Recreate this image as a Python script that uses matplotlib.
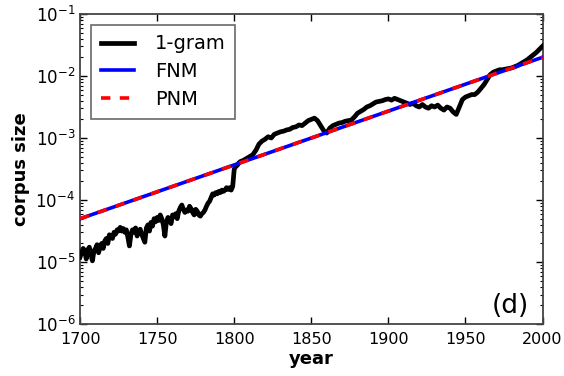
import numpy as np
import matplotlib
matplotlib.use('Agg')
import matplotlib.pyplot as plt

# 1-gram corpus size (log10)
years_early = list(range(1700, 1805))
log_early = [
    -4.92, -4.85, -4.78, -4.82, -4.95, -4.80, -4.76, -4.88, -4.98, -4.82,
    -4.78, -4.72, -4.85, -4.75, -4.70, -4.78, -4.66, -4.62, -4.70, -4.56,
    -4.58, -4.62, -4.52, -4.55, -4.48, -4.50, -4.44, -4.50, -4.46, -4.52,
    -4.48, -4.60, -4.74, -4.55, -4.48, -4.52, -4.45, -4.58, -4.50, -4.47,
    -4.55, -4.62, -4.68, -4.45, -4.40, -4.50, -4.36, -4.42, -4.30, -4.35,
    -4.28, -4.33, -4.24, -4.30, -4.40, -4.58, -4.35, -4.28, -4.30, -4.38,
    -4.24, -4.27, -4.22, -4.30, -4.18, -4.12, -4.08, -4.15, -4.20, -4.16,
    -4.18, -4.10, -4.14, -4.20, -4.24, -4.15, -4.18, -4.24, -4.26, -4.22,
    -4.20, -4.16, -4.10, -4.05, -4.02, -3.96, -3.90, -3.92, -3.88, -3.90,
    -3.86, -3.88, -3.84, -3.86, -3.84, -3.80, -3.83, -3.80, -3.84, -3.78,
    -3.50, -3.46, -3.44, -3.40, -3.38,
]
years_late = list(range(1806, 2001, 2))
log_late = [
    -3.36, -3.33, -3.30, -3.27, -3.20, -3.10, -3.05, -3.02, -2.98, -3.00,
    -2.94, -2.92, -2.90, -2.89, -2.87, -2.86, -2.83, -2.82, -2.79, -2.80,
    -2.76, -2.72, -2.70, -2.68, -2.72, -2.80, -2.88, -2.92, -2.84, -2.80,
    -2.78, -2.76, -2.75, -2.73, -2.72, -2.71, -2.66, -2.60, -2.57, -2.54,
    -2.50, -2.48, -2.45, -2.42, -2.41, -2.40, -2.38, -2.37, -2.39, -2.36,
    -2.38, -2.40, -2.42, -2.44, -2.46, -2.44, -2.48, -2.50, -2.46, -2.50,
    -2.52, -2.48, -2.50, -2.47, -2.52, -2.55, -2.50, -2.52, -2.58, -2.62,
    -2.50, -2.38, -2.34, -2.32, -2.30, -2.30, -2.26, -2.20, -2.14, -2.06,
    -1.98, -1.94, -1.92, -1.90, -1.90, -1.89, -1.88, -1.87, -1.85, -1.83,
    -1.80, -1.77, -1.74, -1.70, -1.66, -1.62, -1.57, -1.52,
]
years = years_early + years_late
corpus = 10 ** np.array(log_early + log_late)

# model fits (FNM and PNM coincide): endpoints of the straight line on log axis
fit_years = [1700, 2000]
fnm = [5.0e-5, 2.0e-2]
pnm = [5.0e-5, 2.0e-2]

fig = plt.figure(figsize=(5.64, 3.76), dpi=100)
ax = fig.add_axes([0.142, 0.138, 0.820, 0.825])

ax.plot(years, corpus, color='black', lw=3.4, label='1-gram', zorder=3)
ax.plot(fit_years, fnm, color='blue', lw=2.6, label='FNM', zorder=4)
ax.plot(fit_years, pnm, color='red', lw=2.6, dashes=(2.6, 2.6), label='PNM', zorder=5)

ax.set_yscale('log')
ax.set_xlim(1700, 2000)
ax.set_ylim(1e-6, 1e-1)
ax.set_xticks([1700, 1750, 1800, 1850, 1900, 1950, 2000])

ax.tick_params(which='both', direction='in', top=True, right=True, labelsize=12)
ax.tick_params(axis='x', labelsize=11.5)
ax.tick_params(which='major', length=5, width=1)
ax.tick_params(which='minor', length=2.5, width=0.8)
ax.tick_params(axis='x', pad=6)
for s in ax.spines.values():
    s.set_color('#444444')
    s.set_linewidth(1.3)

ax.set_xlabel('year', fontsize=13, fontweight='bold', labelpad=2)
ax.set_ylabel('corpus size', fontsize=13, fontweight='bold', labelpad=4)
ax.text(0.97, 0.015, '(d)', transform=ax.transAxes, ha='right', va='bottom', fontsize=19)

leg = ax.legend(loc='upper left', fontsize=14, handlelength=1.7, fancybox=False,
                borderaxespad=0.55, borderpad=0.5, handletextpad=1.1, labelspacing=0.45)
leg.get_frame().set_edgecolor('#444444')
leg.get_frame().set_linewidth(1.2)

fig.savefig('out.png', dpi=100)
